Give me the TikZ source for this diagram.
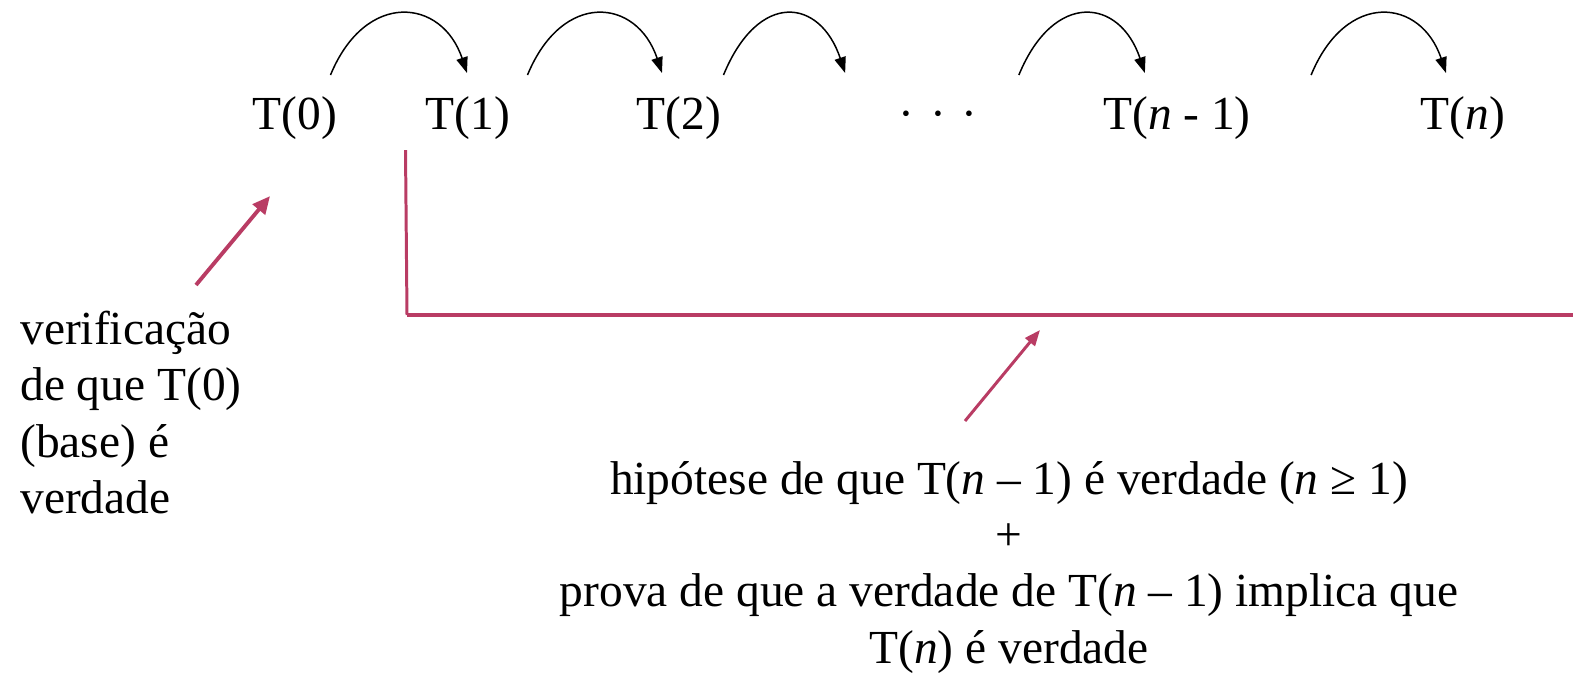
\documentclass[tikz,border=0pt]{standalone}
\usepackage{fontspec}
\setmainfont{Liberation Serif}
\usetikzlibrary{arrows.meta}
\definecolor{rose}{RGB}{185,60,100}

\begin{document}
\begin{tikzpicture}[x=0.02cm, y=0.02cm,
		term/.style = {font=\fontsize{27}{33}\selectfont, inner sep=0, text height=18pt, text depth=5pt, anchor=base},
		note/.style = {font=\fontsize{27}{32}\selectfont, inner sep=0},
		hop/.style = {-{Triangle[length=9pt, width=6.5pt]}, line width=0.85pt},
		pointer/.style = {-{Triangle[length=10pt, width=9pt]}, draw=rose, line width=2.2pt},
		thin pointer/.style = {-{Triangle[length=9pt, width=7pt]}, draw=rose, line width=1.7pt},
		rail/.style = {draw=rose, line width=1.7pt},
		main rail/.style = {draw=rose, line width=2.8pt}
		]
		\useasboundingbox (0,0) rectangle (1573,-675);

		%Terms
		\node[term]	(t0)	at	(295,-130)	{T(0)};
		\node[term]	(t1)	at	(468,-130)	{T(1)};
		\node[term]	(t2)	at	(679,-130)	{T(2)};
		\node[term]	(dots)	at	(938,-130)	{·\hspace{9pt}·\hspace{9pt}·};
		\node[term]	(tn1)	at	(1177,-130)	{T(\textit{n} - 1)};
		\node[term]	(tn)	at	(1463,-130)	{T(\textit{n})};

		%Notes
		\node[note, anchor=north west, align=left]	(base)	at	(20,-311)
			{verificação\\de que T(0)\\(base) é\\verdade};
		\node[note, anchor=north, align=center]	(step)	at	(1009,-461)
			{hipótese de que T(\textit{n} – 1) é verdade (\textit{n} ≥ 1)\\+\\prova de que a verdade de T(\textit{n} – 1) implica que\\T(\textit{n}) é verdade};

		%Bracket
		\coordinate	(corner)	at	(407,-315);
		\coordinate	(edge)		at	(1573,-315);
		\draw[rail]			([shift={(-20,-11)}]t1.south west)	--	(corner);
		\draw[main rail]	(corner)	--	(edge);

		%Hops
		\draw[hop]	([shift={(-7,23)}]t0.north east)	.. controls +(35,85) and +(-25,75) ..	([shift={(-1,25)}]t1.north);
		\draw[hop]	([shift={(17,23)}]t1.north east)	.. controls +(35,85) and +(-25,75) ..	([shift={(-17,25)}]t2.north);
		\draw[hop]	([shift={(2,23)}]t2.north east)		.. controls +(35,85) and +(-25,75) ..	([shift={(-53,25)}]dots.north west);
		\draw[hop]	([shift={(41,23)}]dots.north east)	.. controls +(35,85) and +(-25,75) ..	([shift={(42,25)}]tn1.north west);
		\draw[hop]	([shift={(60,23)}]tn1.north east)	.. controls +(35,85) and +(-25,75) ..	([shift={(-17,25)}]tn.north);

		%Pointers
		\draw[pointer]		([shift={(65,26)}]base.north)	--	([shift={(-25,-57)}]t0.south);
		\draw[thin pointer]	([shift={(-44,40)}]step.north)	--	([shift={(633,-15)}]corner);
	\end{tikzpicture}
\end{document}
